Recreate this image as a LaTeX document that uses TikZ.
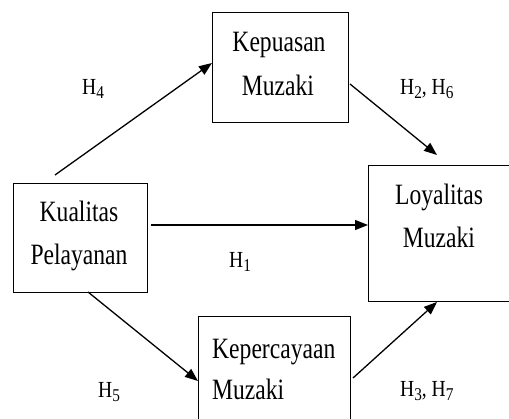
\documentclass[tikz,border=0pt]{standalone}
\usepackage{fontspec}
\setmainfont[FakeStretch=0.8]{Liberation Serif}
\newfontfamily\labfont[FakeStretch=0.85]{Liberation Serif}
\usetikzlibrary{arrows.meta}
\newcommand{\hsub}[1]{\raisebox{-4pt}{\fontsize{18}{18}\selectfont #1}}
\begin{document}
\begin{tikzpicture}[x=1pt,y=-1pt,
  box/.style={draw, line width=1.3pt, inner sep=0pt, anchor=north west},
  txt/.style={font=\fontsize{29.5}{43}\selectfont, anchor=base, inner sep=0pt},
  txtl/.style={txt, anchor=base west},
  hyp/.style={font=\labfont\fontsize{23}{26}\selectfont, anchor=base west, inner sep=0pt},
  arr/.style={line width=1.3pt, -{Triangle[length=13pt,width=10pt]}}]
\path[use as bounding box] (0,0) rectangle (509,419);
\clip (0,0) rectangle (509,419);
% boxes
\node[box, minimum width=136pt, minimum height=110pt] (kep) at (212,12) {};
\node[box, minimum width=134pt, minimum height=109pt] (kua) at (13,183) {};
\node[box, minimum width=142pt, minimum height=136pt] (loy) at (368,165) {};
\node[box, minimum width=152pt, minimum height=120pt] (kpc) at (198,316) {};
% texts
\node[txt] (t1) at (279,52) {Kepuasan};
\node[txt] (t2) at (278,96) {Muzaki};
\node[txt] (t3) at (79,222) {Kualitas};
\node[txt] (t4) at (79,265) {Pelayanan};
\node[txt] (t5) at (439,205) {Loyalitas};
\node[txt] (t6) at (439,248) {Muzaki};
\node[txtl] (t7) at (212,359) {Kepercayaan};
\node[txtl] (t8) at (212,400) {Muzaki};
% arrow ends
\coordinate (a1s) at (55,175);  \coordinate (a1e) at (212,63);
\coordinate (a2s) at (350,84);  \coordinate (a2e) at (437,155);
\coordinate (a3s) at (151,225); \coordinate (a3e) at (368,225);
\coordinate (a4s) at (88,292);  \coordinate (a4e) at (198,381);
\coordinate (a5s) at (353,378); \coordinate (a5e) at (437,302);
\draw[arr] (a1s) -- (a1e);
\draw[arr] (a2s) -- (a2e);
\draw[arr] (a3s) -- (a3e);
\draw[arr] (a4s) -- (a4e);
\draw[arr] (a5s) -- (a5e);
% labels
\node[hyp] (h4) at (82,95) {H\hsub{4}};
\node[hyp] (h26) at (400,95) {H\hsub{2}, H\hsub{6}};
\node[hyp] (h1) at (229,268) {H\hsub{1}};
\node[hyp] (h5) at (98,398) {H\hsub{5}};
\node[hyp] (h37) at (400,397) {H\hsub{3}, H\hsub{7}};
\end{tikzpicture}
\end{document}
